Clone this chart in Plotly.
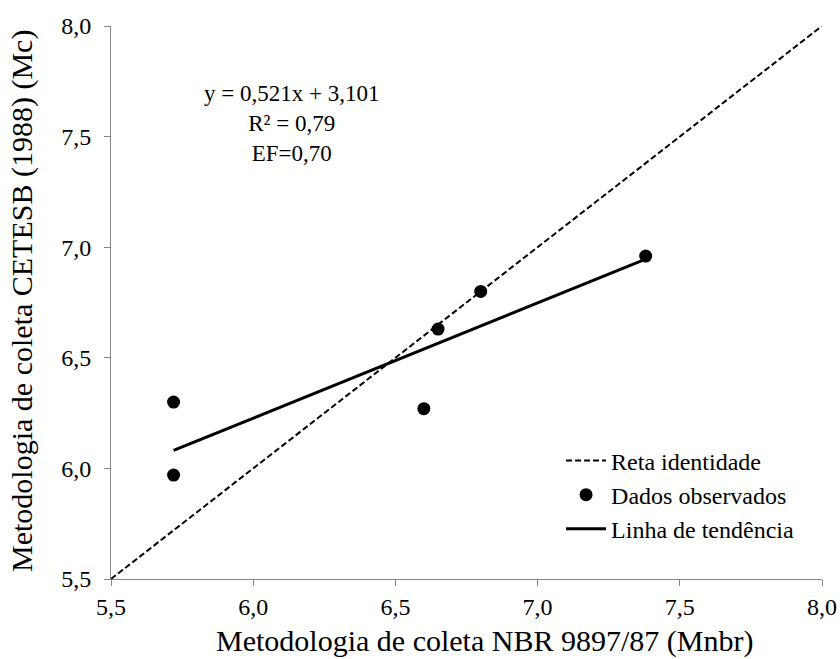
import plotly.graph_objects as go

# Data
obs_x = [5.72, 5.72, 6.60, 6.65, 6.80, 7.38]
obs_y = [6.30, 5.97, 6.27, 6.63, 6.80, 6.96]

identity_x = [5.5, 8.0]
identity_y = [5.5, 8.0]

slope = 0.521
intercept = 3.101
trend_x = [min(obs_x), max(obs_x)]
trend_y = [slope * v + intercept for v in trend_x]

tick_vals = [5.5, 6.0, 6.5, 7.0, 7.5, 8.0]

FONT = "Liberation Serif"
AXIS_GRAY = "#868686"

fig = go.Figure()
fig.add_trace(go.Scatter(
    x=identity_x, y=identity_y, mode="lines", name="Reta identidade",
    line=dict(color="black", width=2, dash="6px,3px")))
fig.add_trace(go.Scatter(
    x=obs_x, y=obs_y, mode="markers", name="Dados observados",
    marker=dict(color="black", size=13)))
fig.add_trace(go.Scatter(
    x=trend_x, y=trend_y, mode="lines", name="Linha de tendência",
    line=dict(color="black", width=3)))

axis_common = dict(
    range=[5.5, 8.0], tickvals=tick_vals, tickformat=".1f",
    showgrid=False, zeroline=False, showline=True, linecolor=AXIS_GRAY,
    linewidth=1, ticks="outside", ticklen=6, tickcolor=AXIS_GRAY,
    tickfont=dict(family=FONT, size=24, color="black"),
)

fig.update_layout(
    width=840, height=659,
    margin=dict(l=111, r=18, t=26, b=80, autoexpand=False),
    paper_bgcolor="white", plot_bgcolor="white",
    separators=",.",
    font=dict(family=FONT, size=24, color="black"),
    xaxis=dict(**axis_common, ticklabelstandoff=0),
    yaxis=dict(**axis_common, ticklabelstandoff=8),
    showlegend=True,
    legend=dict(x=0.633, y=0.05, xanchor="left", yanchor="bottom",
                bgcolor="rgba(0,0,0,0)", font=dict(family=FONT, size=24),
                tracegroupgap=0, itemwidth=40),
    annotations=[
        dict(x=6.136, y=7.56, xref="x", yref="y",
             text="y = 0,521x + 3,101<br>R² = 0,79<br>EF=0,70",
             showarrow=False, align="center", xanchor="center", yanchor="middle",
             font=dict(family=FONT, size=23, color="black")),
        dict(x=0.526, y=-0.112, xref="paper", yref="paper",
             text="Metodologia de coleta NBR 9897/87 (Mnbr)",
             showarrow=False, xanchor="center", yanchor="middle",
             font=dict(family=FONT, size=30, color="black")),
        dict(x=-0.125, y=0.503, xref="paper", yref="paper",
             text="Metodologia de coleta CETESB (1988) (Mc)", textangle=-90,
             showarrow=False, xanchor="center", yanchor="middle",
             font=dict(family=FONT, size=30, color="black")),
    ],
)

fig.write_html("out.html", config={"displayModeBar": False},
               post_script="document.body.style.margin='0';")
